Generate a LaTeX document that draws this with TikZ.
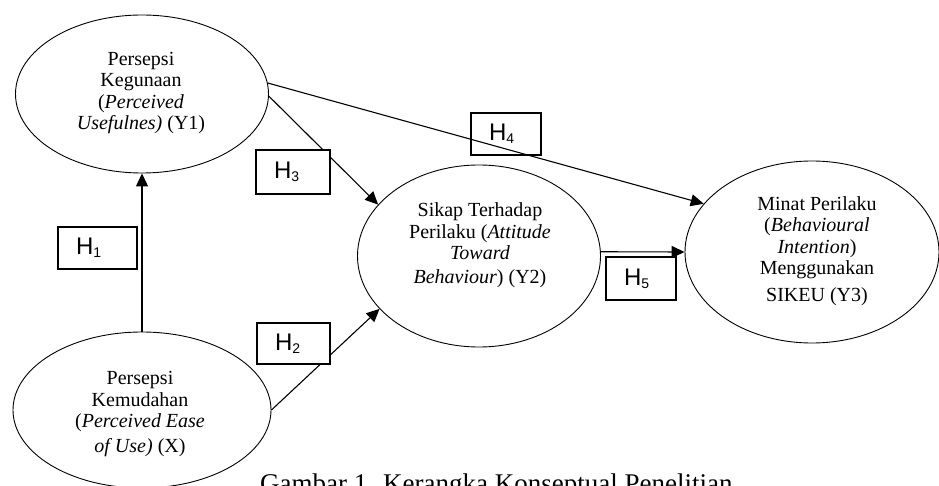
\documentclass[tikz,border=0pt]{standalone}
\usepackage{fontspec}
\setmainfont{Liberation Serif}
\newfontfamily\arialfont{Liberation Sans}
\usetikzlibrary{arrows.meta, shapes.geometric}

\newcommand{\hyp}[1]{H\raisebox{-3pt}{\fontsize{14}{14}\selectfont #1}}

\begin{document}
\begin{tikzpicture}[x=1pt, y=-1pt,
  latent/.style={ellipse, draw, line width=0.9pt, inner sep=0pt},
  ltext/.style={align=center, inner sep=0pt, font=\fontsize{20}{21.5}\selectfont},
  hypbox/.style={draw, fill=white, line width=1.1pt, inner xsep=18pt, inner ysep=0pt,
    minimum height=42pt, text width=#1, align=left, font=\arialfont\fontsize{24}{24}\selectfont},
  link/.style={line width=1.1pt, -{Triangle[length=13pt, width=12pt]}},
]
  \useasboundingbox (0,0) rectangle (939,486);

  % constructs
  \node[latent, minimum width=253pt, minimum height=158pt] (y1) at (142,94) {};
  \node[latent, minimum width=258pt, minimum height=156pt] (x) at (142,410) {};
  \node[latent, minimum width=243pt, minimum height=182pt] (y2) at (479,256) {};
  \node[latent, minimum width=254pt, minimum height=182pt] (y3) at (812,252) {};

  \node[ltext] (y1text) at (141,93) {Persepsi\\Kegunaan\\(\textit{Perceived}\\\textit{Usefulnes)} (Y1)};
  \node[ltext] (xtext) at (140,414) {Persepsi\\Kemudahan\\(\textit{Perceived Ease}\\[3pt]\textit{of Use)} (X)};
  \node[ltext] (y2text) at (480,245) {Sikap Terhadap\\Perilaku (\textit{Attitude}\\\textit{Toward}\\[2pt]\textit{Behaviour}) (Y2)};
  \node[ltext] (y3text) at (817,251) {Minat Perilaku\\(\textit{Behavioural}\\\textit{Intention})\\Menggunakan\\[5pt]SIKEU (Y3)};

  % paths
  \draw[link] (x.north) -- (y1.south);
  \draw[link] (x.east) -- (y2.208);
  \draw[link] (y1.-1) -- (y2.153);
  \draw[link] (y2.2) -- (y3.west);

  % hypotheses
  \node[hypbox=43pt] (h1) at (97.5,248) {\hyp{1}};
  \node[hypbox=37pt, minimum height=41pt] (h2) at (293.5,343.5) {\hyp{2}};
  \node[hypbox=38pt, minimum height=44pt] (h3) at (293,172) {\hyp{3}};
  \node[hypbox=34pt] (h4) at (506,134) {\hyp{4}};
  \node[hypbox=34pt, minimum height=43pt] (h5) at (641,278.5) {\hyp{5}};

  \draw[link] (y1.5) -- (y3.156);

  \node[anchor=base west, inner sep=0pt, font=\fontsize{27}{27}\selectfont] (caption) at (260,492)
    {Gambar 1. Kerangka Konseptual Penelitian};
\end{tikzpicture}
\end{document}
